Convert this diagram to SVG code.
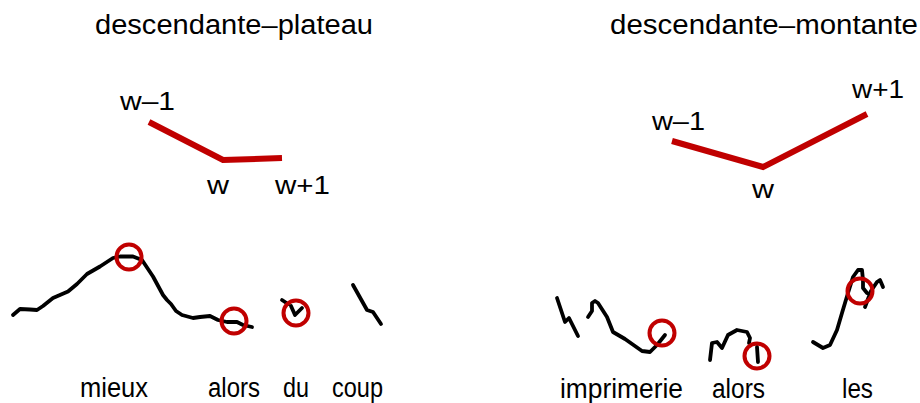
<svg xmlns="http://www.w3.org/2000/svg" width="920" height="403" viewBox="0 0 920 403">
<style>
text{font-family:"Liberation Sans","Noto Sans",sans-serif;fill:#000;font-size:26px}
.t{font-size:27px}
.b{font-size:27px}
.red{fill:none;stroke:#C00000;stroke-width:6;stroke-linecap:butt;stroke-linejoin:miter}
.pitch{fill:none;stroke:#000;stroke-width:3.8;stroke-linecap:round;stroke-linejoin:round}
.mark{fill:none;stroke:#C00000;stroke-width:4}
</style>
<rect width="920" height="403" fill="#fff"/>
<g id="left-panel">
  <text class="t" x="95" y="34" textLength="278" lengthAdjust="spacingAndGlyphs">descendante–plateau</text>
  <g id="left-shape">
    <polyline class="red" points="149,122 223,160 282,158"/>
    <text x="120" y="110" textLength="55" lengthAdjust="spacingAndGlyphs">w–1</text>
    <text x="207" y="194" textLength="22" lengthAdjust="spacingAndGlyphs">w</text>
    <text x="275" y="194" textLength="55" lengthAdjust="spacingAndGlyphs">w+1</text>
  </g>
  <g id="left-contours">
    <path class="pitch" d="M13,315 L20,309 L30,309.5 L37,310 L43,306 L53,298 L68,291.5 L77,284 L87,274 L100,266.5 L113,258 L120,256.5 L133,256.5 L142,260 L153,276.5 L163,295 L167,300 L171,304 L176,311 L182,315 L193,318 L200,317 L210,316 L218,320 L227,322 L237,322 L243,325 L252,327"/>
    <path class="pitch" d="M282,300 L288,304 M291,306 L295,315 L302,308"/>
    <path class="pitch" d="M353,285 L367,310 L373,312 L377,318 L381,324"/>
    <circle class="mark" cx="129" cy="257" r="12.5"/>
    <circle class="mark" cx="234" cy="321" r="12.5"/>
    <circle class="mark" cx="296" cy="313" r="12.5"/>
  </g>
  <text class="b" x="80" y="397" textLength="68" lengthAdjust="spacingAndGlyphs">mieux</text>
  <text class="b" x="208" y="397" textLength="52" lengthAdjust="spacingAndGlyphs">alors</text>
  <text class="b" x="283" y="397" textLength="26" lengthAdjust="spacingAndGlyphs">du</text>
  <text class="b" x="332" y="397" textLength="51" lengthAdjust="spacingAndGlyphs">coup</text>
</g>
<g id="right-panel">
  <text class="t" x="610" y="34" textLength="308" lengthAdjust="spacingAndGlyphs">descendante–montante</text>
  <g id="right-shape">
    <polyline class="red" points="672,141 763,167 867,114"/>
    <text x="652" y="130" textLength="53" lengthAdjust="spacingAndGlyphs">w–1</text>
    <text x="752" y="198" textLength="22" lengthAdjust="spacingAndGlyphs">w</text>
    <text x="852" y="98" textLength="52" lengthAdjust="spacingAndGlyphs">w+1</text>
  </g>
  <g id="right-contours">
    <path class="pitch" d="M557,298 L565,322 L569,318 L578,336"/>
    <path class="pitch" d="M588,317 L592,311 L592,303 L595,301 L598,303 L607,317 L613,332 L625,339 L642,351 L650,352 L657,345 L665,335"/>
    <path class="pitch" d="M710,360 L712,343 L717,342 L722,348 L728,335 L737,330 L747,332 L750,338 L749,343 M757,347 L758,362"/>
    <path class="pitch" d="M813,342 L823,348 L830,345 L837,330 L842,313 L848,293 L853,277 L858,270 L862,270 L863,280 L863,288 L867,293 M873,288 L877,282 L880,280 L883,287 M871,291 L865,307"/>
    <circle class="mark" cx="662" cy="333" r="12.5"/>
    <circle class="mark" cx="757" cy="356" r="12.5"/>
    <circle class="mark" cx="860" cy="291" r="12.5"/>
  </g>
  <text class="b" x="560" y="398" textLength="123" lengthAdjust="spacingAndGlyphs">imprimerie</text>
  <text class="b" x="712" y="398" textLength="53" lengthAdjust="spacingAndGlyphs">alors</text>
  <text class="b" x="842" y="398" textLength="31" lengthAdjust="spacingAndGlyphs">les</text>
</g>
</svg>
